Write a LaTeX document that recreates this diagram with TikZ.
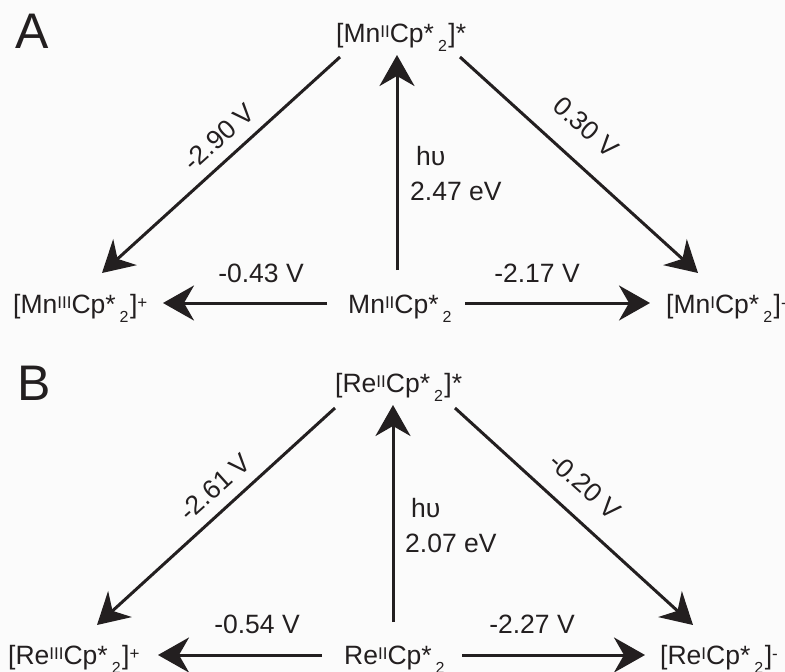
\documentclass[tikz,border=0pt]{standalone}
\usepackage{fontspec}
\setmainfont{Liberation Sans}
\usetikzlibrary{arrows.meta,calc}
\definecolor{ink}{HTML}{231F20}
\definecolor{bg}{HTML}{FBFBFB}
\newcommand{\supx}[1]{\raisebox{5pt}{\fontsize{17}{17}\selectfont #1}}
\newcommand{\cps}{Cp*\kern4pt\raisebox{-9pt}{\fontsize{16}{16}\selectfont 2}\kern1.5pt}
\tikzset{
  chem/.style={inner sep=0pt, anchor=base west, text=ink, font=\fontsize{26.5}{30}\selectfont},
  val/.style={inner sep=0pt, anchor=base, text=ink, font=\fontsize{26.5}{30}\selectfont},
  rval/.style={inner sep=0pt, anchor=center, text=ink, font=\fontsize{26.5}{30}\selectfont},
  panel/.style={inner sep=0pt, anchor=base west, text=ink, font=\fontsize{50}{54}\selectfont},
  arr/.style={draw=ink, line width=3pt, -{Stealth[length=31pt,width=35pt,inset=10pt]}}
}
\begin{document}
\begin{tikzpicture}[x=1pt,y=-1pt]
\fill[bg] (0,0) rectangle (785,672);
\useasboundingbox (0,0) rectangle (785,672);
% ---------------- Panel A
\node[panel] (pA) at (15,48) {A};
\node[chem] (tA) at (336,42) {[Mn\supx{II}\cps]*};
\node[chem] (bA) at (348,313) {Mn\supx{II}\cps};
\node[chem] (lA) at (13,313) {[Mn\supx{III}\cps]\supx{+}};
\node[chem] (rA) at (666,313) {[Mn\supx{I}\cps]\supx{-}};
\draw[arr] ($(bA.base west)+(49,-43)$) -- ($(tA.base west)+(61,13)$);
\draw[arr] ($(bA.base west)+(-21,-10)$) -- ($(lA.base west)+(150,-10)$);
\draw[arr] ($(bA.base west)+(117,-10)$) -- ($(rA.base west)+(-16,-10)$);
\draw[arr] ($(tA.base west)+(4,15)$) -- ($(lA.base west)+(89,-40)$);
\draw[arr] ($(tA.base west)+(124,15)$) -- ($(rA.base west)+(32,-40)$);
\node[val] (vA1) at (261,282) {-0.43 V};
\node[val] (vA2) at (537,282) {-2.17 V};
\node[chem] (hA) at (416,165) {hυ};
\node[chem] (eA) at (410,200) {2.47 eV};
\node[rval, rotate=42] (dA1) at (219,137) {-2.90 V};
\node[rval, rotate=-42] (dA2) at (586,127) {0.30 V};
% ---------------- Panel B
\node[panel] (pB) at (17,400) {B};
\node[chem] (tB) at (335,392) {[Re\supx{II}\cps]*};
\node[chem] (bB) at (344,664) {Re\supx{II}\cps};
\node[chem] (lB) at (8,664) {[Re\supx{III}\cps]\supx{+}};
\node[chem] (rB) at (660,664) {[Re\supx{I}\cps]\supx{-}};
\draw[arr] ($(bB.base west)+(49,-42)$) -- ($(tB.base west)+(58,13)$);
\draw[arr] ($(bB.base west)+(-22,-9)$) -- ($(lB.base west)+(150,-9)$);
\draw[arr] ($(bB.base west)+(118,-9)$) -- ($(rB.base west)+(-15,-9)$);
\draw[arr] ($(tB.base west)+(0,16)$) -- ($(lB.base west)+(89,-39)$);
\draw[arr] ($(tB.base west)+(120,16)$) -- ($(rB.base west)+(33,-39)$);
\node[val] (vB1) at (257,633) {-0.54 V};
\node[val] (vB2) at (532,633) {-2.27 V};
\node[chem] (hB) at (411,517) {hυ};
\node[chem] (eB) at (405,552) {2.07 eV};
\node[rval, rotate=42] (dB1) at (215,487) {-2.61 V};
\node[rval, rotate=-42] (dB2) at (585,486) {-0.20 V};
\end{tikzpicture}
\end{document}
